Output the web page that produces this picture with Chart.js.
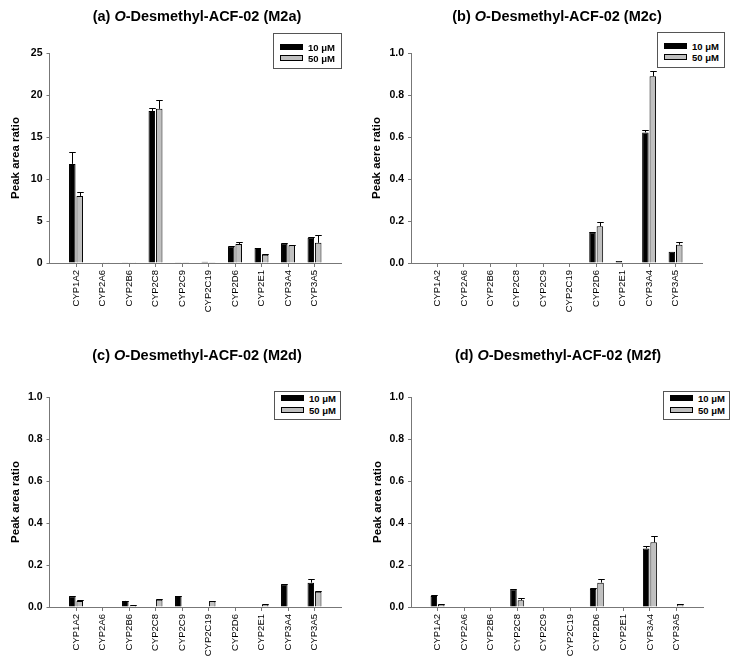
<!DOCTYPE html>
<html>
<head>
<meta charset="utf-8">
<script src="https://cdn.jsdelivr.net/npm/chart.js@4"></script>
<style>
  body { margin: 0; background: #fff; font-family: Arial, "Liberation Sans", sans-serif; }
  #page { position: relative; width: 739px; height: 667px; overflow: hidden; }
  .panel { position: absolute; width: 370px; height: 334px; }
  .panel canvas { position: absolute; left: 0; top: 0; }
  .title { position: absolute; font-weight: bold; font-size: 14.5px; white-space: nowrap; transform: translate(-50%, -50%); }
  .legend { position: absolute; border: 1px solid #555; box-sizing: border-box; background: #fff; }
  .legend .row { position: absolute; left: 6px; height: 10px; display: flex; align-items: center; font-size: 9.5px; font-weight: bold; white-space: nowrap; }
  .swatch { width: 23px; height: 6px; box-sizing: border-box; border: 1px solid #000; margin-right: 5px; }
</style>
</head>
<body>
<div id="page"></div>
<script>
// == Data ==
const cypLabels = ['CYP1A2', 'CYP2A6', 'CYP2B6', 'CYP2C8', 'CYP2C9', 'CYP2C19', 'CYP2D6', 'CYP2E1', 'CYP3A4', 'CYP3A5'];
const seriesNames = ['10 μM', '50 μM'];

// (a) M2a
const m2a10 = [11.8, 0.05, 0.08, 18.1, 0.08, 0.15, 1.94, 1.8, 2.28, 3.02];
const m2a10Err = [1.45, 0, 0, 0.35, 0, 0, 0.08, 0, 0.05, 0.08];
const m2a50 = [7.98, 0.02, 0.02, 18.35, 0.03, 0.03, 2.25, 0.97, 2.1, 2.4];
const m2a50Err = [0.5, 0, 0, 1.08, 0, 0, 0.25, 0.05, 0.03, 0.88];

// (b) M2c
const m2c10 = [0, 0, 0, 0, 0, 0, 0.144, 0.01, 0.622, 0.054];
const m2c10Err = [0, 0, 0, 0, 0, 0, 0.004, 0, 0.009, 0];
const m2c50 = [0, 0, 0, 0, 0, 0, 0.175, 0, 0.889, 0.087];
const m2c50Err = [0, 0, 0, 0, 0, 0, 0.018, 0, 0.027, 0.013];

// (c) M2d
const m2d10 = [0.051, 0, 0.029, 0, 0.052, 0, 0, 0, 0.108, 0.116];
const m2d10Err = [0.002, 0, 0.001, 0, 0.002, 0, 0, 0, 0.002, 0.019];
const m2d50 = [0.029, 0, 0.006, 0.035, 0, 0.027, 0, 0.011, 0, 0.073];
const m2d50Err = [0.002, 0, 0.002, 0.002, 0, 0.002, 0, 0.002, 0, 0.003];

// (d) M2f
const m2f10 = [0.052, 0, 0, 0.083, 0, 0, 0.086, 0, 0.279, 0];
const m2f10Err = [0.003, 0, 0, 0.002, 0, 0, 0.006, 0, 0.013, 0];
const m2f50 = [0.011, 0, 0, 0.032, 0, 0, 0.116, 0, 0.308, 0.014];
const m2f50Err = [0.001, 0, 0, 0.009, 0, 0, 0.016, 0, 0.03, 0.002];

// == Layout ==
const FONT = 'Arial, "Liberation Sans", sans-serif';
const AXIS = '#777';
const panels = [
    { letter: 'a', met: 'M2a', yTitle: 'Peak area ratio', d10: m2a10, e10: m2a10Err, d50: m2a50, e50: m2a50Err,
      max: 25, step: 5, dec: 0, left: 0, top: 0, area: [49.5, 53, 341, 263], yTitleX: 16, titleAt: [197, 16],
      legend: [273, 33, 69, 36], rows: [8, 19] },
    { letter: 'b', met: 'M2c', yTitle: 'Peak aere ratio', d10: m2c10, e10: m2c10Err, d50: m2c50, e50: m2c50Err,
      max: 1, step: 0.2, dec: 1, left: 370, top: 0, area: [41, 53, 332, 263], yTitleX: 7, titleAt: [187, 16],
      legend: [287, 32, 68, 36], rows: [8, 19] },
    { letter: 'c', met: 'M2d', yTitle: 'Peak area ratio', d10: m2d10, e10: m2d10Err, d50: m2d50, e50: m2d50Err,
      max: 1, step: 0.2, dec: 1, left: 0, top: 333, area: [49.5, 64, 341, 274], yTitleX: 16, titleAt: [197, 22],
      legend: [274, 58, 67, 29], rows: [1, 13] },
    { letter: 'd', met: 'M2f', yTitle: 'Peak area ratio', d10: m2f10, e10: m2f10Err, d50: m2f50, e50: m2f50Err,
      max: 1, step: 0.2, dec: 1, left: 370, top: 333, area: [41, 64, 333, 274], yTitleX: 8, titleAt: [188, 22],
      legend: [293, 58, 67, 29], rows: [1, 13] },
];
const W = 370, H = 334;

// == Plugins ==
// draws the upward error bar + cap on each bar, using the y scale
const errorBars = {
    id: 'errorBars',
    afterDatasetsDraw(chart) {
        const ctx = chart.ctx;
        const y = chart.scales.y;
        chart.data.datasets.forEach((ds, i) => {
            const meta = chart.getDatasetMeta(i);
            meta.data.forEach((bar, j) => {
                const v = ds.data[j];
                const err = ds.errors[j];
                if (v == null || !err) return;
                const top = Math.round(y.getPixelForValue(v + err)) + 0.5;
                const x = Math.round(bar.x) + 0.5;
                const half = bar.width / 2;
                ctx.save();
                ctx.strokeStyle = '#000';
                ctx.lineWidth = 1;
                ctx.beginPath();
                ctx.moveTo(x, bar.y);
                ctx.lineTo(x, top);
                ctx.moveTo(x - half, top);
                ctx.lineTo(x + half, top);
                ctx.stroke();
                ctx.restore();
            });
        });
    }
};

// pad one empty slot at each end so the axis runs a full category past the bars
function pad(arr) {
    return [null, ...arr.map(v => v || null), null];
}

function buildPanel(p) {
    const page = document.getElementById('page');
    const div = document.createElement('div');
    div.className = 'panel';
    div.style.left = p.left + 'px';
    div.style.top = p.top + 'px';
    div.innerHTML = `
        <canvas width="${W}" height="${H}"></canvas>
        <div class="title" style="left:${p.titleAt[0]}px;top:${p.titleAt[1]}px">(${p.letter}) <i>O</i>-Desmethyl-ACF-02 (${p.met})</div>
        <div class="legend" style="left:${p.legend[0]}px;top:${p.legend[1]}px;width:${p.legend[2]}px;height:${p.legend[3]}px">
            <div class="row" style="top:${p.rows[0]}px"><span class="swatch" style="background:#000"></span>${seriesNames[0]}</div>
            <div class="row" style="top:${p.rows[1]}px"><span class="swatch" style="background:#c0c0c0"></span>${seriesNames[1]}</div>
        </div>`;
    page.appendChild(div);

    const [aL, aT, aR, aB] = p.area;
    const padLeft = p.yTitleX - 6.9;
    const labels = ['', ...cypLabels, ''];
    const last = labels.length - 1;

    new Chart(div.querySelector('canvas'), {
        type: 'bar',
        plugins: [errorBars],
        data: {
            labels,
            datasets: [
                { label: seriesNames[0], data: pad(p.d10), errors: pad(p.e10), backgroundColor: '#000',
                  borderColor: '#000', borderWidth: 1, borderSkipped: 'start' },
                { label: seriesNames[1], data: pad(p.d50), errors: pad(p.e50), backgroundColor: '#c0c0c0',
                  borderColor: '#000', borderWidth: 1, borderSkipped: 'start' },
            ]
        },
        options: {
            responsive: false,
            animation: false,
            devicePixelRatio: 1,
            categoryPercentage: 0.56,
            barPercentage: 0.88,
            layout: { padding: { left: padLeft, top: aT, right: W - aR, bottom: 0 } },
            plugins: { legend: { display: false }, tooltip: { enabled: false } },
            scales: {
                x: {
                    offset: false,
                    grid: {
                        offset: false, drawOnChartArea: false, tickLength: 4,
                        tickColor: c => (c.index === 0 || c.index === last) ? 'rgba(0,0,0,0)' : AXIS
                    },
                    border: { color: AXIS, width: 1 },
                    ticks: { autoSkip: false, minRotation: 90, maxRotation: 90, padding: 3, color: '#000',
                             font: { family: FONT, size: 9.5 } },
                    afterFit: s => { s.height = H - aB; }
                },
                y: {
                    min: 0, max: p.max,
                    grid: { drawOnChartArea: false, tickLength: 3, tickColor: AXIS },
                    border: { color: AXIS, width: 1 },
                    ticks: { stepSize: p.step, padding: 4, color: '#000',
                             font: { family: FONT, size: 10.5, weight: 'bold' },
                             callback: v => Number(v).toFixed(p.dec) },
                    title: { display: true, text: p.yTitle, color: '#000', padding: 0,
                             font: { family: FONT, size: 11.5, weight: 'bold' } },
                    afterFit: s => { s.width = aL - padLeft; }
                }
            }
        }
    });
}

panels.forEach(buildPanel);
</script>
</body>
</html>
